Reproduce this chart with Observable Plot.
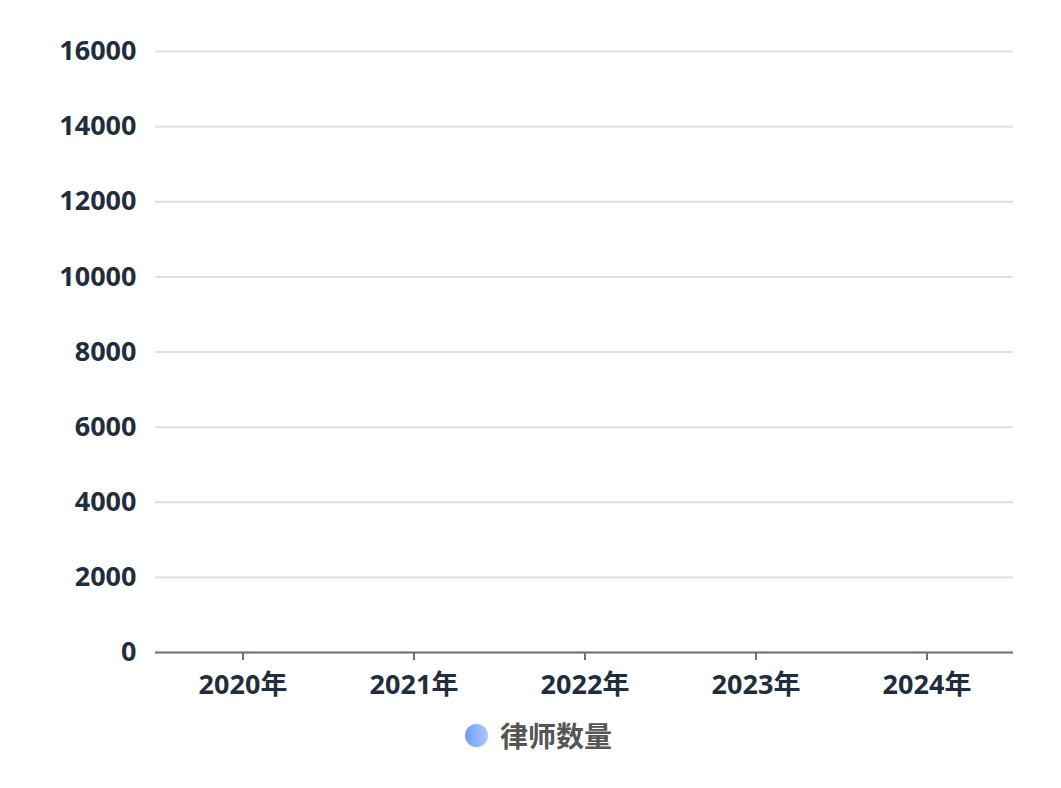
<!DOCTYPE html>
<html><head><meta charset="utf-8">
<script src="https://cdn.jsdelivr.net/npm/d3@7"></script>
<script src="https://cdn.jsdelivr.net/npm/@observablehq/plot@0.6"></script>
<style>
body{margin:0;background:#fff;font-family:"Noto Sans","Noto Sans CJK SC",sans-serif;}
#legend{height:50px;display:flex;align-items:center;justify-content:center;gap:12px;font-size:28px;font-weight:bold;color:#555;font-family:"Noto Sans CJK SC","Noto Sans",sans-serif;padding-left:22px}
#legend .dot{width:23px;height:23px;border-radius:50%;background:linear-gradient(90deg,#6e9ffc,#a9c8ff);margin-left:-6px}
</style></head>
<body>
<div id="chart"></div>
<div id="legend"><span class="dot"></span><span>律师数量</span></div>
<script>
const years = ["2020年","2021年","2022年","2023年","2024年"];
const lawyers = [0,0,0,0,0];
const yTicks = [0,2000,4000,6000,8000,10000,12000,14000,16000];
const seriesName = "律师数量";

const data = years.map((y,i)=>({year:y, value:lawyers[i]}));
const plot = Plot.plot({
  width:1061, height:710,
  marginLeft:155, marginRight:48, marginTop:51, marginBottom:58,
  style:{fontFamily:'"Noto Sans","Noto Sans CJK SC",sans-serif', fontSize:"27px", fontWeight:"bold", color:"#1f2d3d", background:"#fff"},
  x:{domain:years, padding:0, label:null},
  y:{domain:[0,16000], label:null},
  marks:[
    Plot.gridY(yTicks,{stroke:"#e0e0e0", strokeOpacity:1, strokeWidth:2}),
    Plot.axisY(yTicks,{tickSize:0, tickPadding:19, label:null, fill:"#1f2d3d", tickFormat:d=>String(d)}),
    Plot.barY(data,{x:"year", y:"value", fill:"#7aa6fd", inset:40}),
    Plot.ruleY([0],{stroke:"#6e7079", strokeWidth:2}),
    Plot.axisX({tickSize:8, tickPadding:14, stroke:"#6e7079", strokeWidth:2, strokeOpacity:1, label:null, fill:"#1f2d3d"})
  ]
});
document.getElementById("chart").appendChild(plot);
</script>
</body></html>
